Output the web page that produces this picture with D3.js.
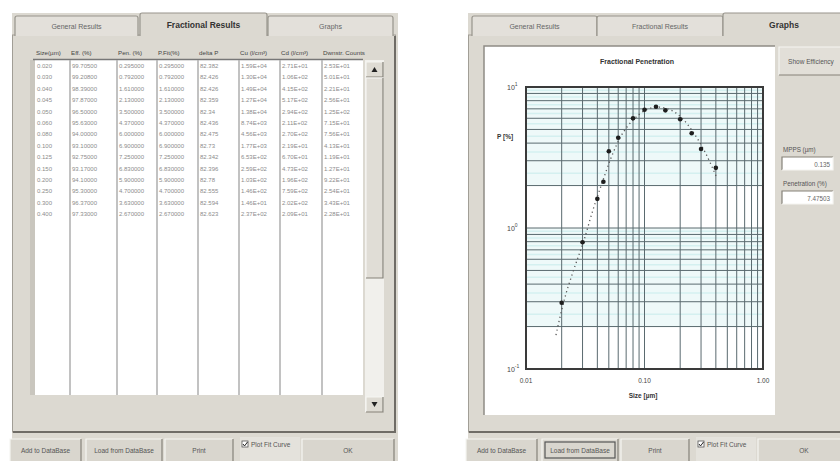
<!DOCTYPE html>
<html>
<head>
<meta charset="utf-8">
<script src="https://cdn.jsdelivr.net/npm/d3@7"></script>
<style>
  body { margin: 0; background: #fff; }
  svg text { font-family: "Liberation Sans", Arial, sans-serif; }
</style>
</head>
<body>
<svg id="chart" width="840" height="461"></svg>
<script>

  // data
  let sizes = [0.020, 0.030, 0.040, 0.045, 0.050, 0.060, 0.080, 0.100, 0.125, 0.150, 0.200, 0.250, 0.300, 0.400];
  let penetration = [0.295, 0.792, 1.61, 2.13, 3.50, 4.37, 6.00, 6.90, 7.25, 6.83, 5.90, 4.70, 3.63, 2.67];

  // fit curve, sampled off the dotted line
  let fitSize = [0.0179, 0.0210, 0.0249, 0.0309, 0.0367, 0.0430, 0.0521, 0.0634, 0.080, 0.103, 0.127, 0.158, 0.203, 0.257, 0.324, 0.409];
  let fitPen = [0.174, 0.308, 0.487, 0.822, 1.34, 1.99, 3.13, 4.49, 5.83, 6.87, 7.21, 6.98, 6.13, 4.80, 3.46, 2.26];

  let deltaP = ["82.382", "82.426", "82.426", "82.359", "82.34", "82.436", "82.475", "82.73", "82.342", "82.396", "82.78", "82.555", "82.594", "82.623"];
  let cUp = ["1.59E+04", "1.30E+04", "1.49E+04", "1.27E+04", "1.38E+04", "8.74E+03", "4.56E+03", "1.77E+03", "6.53E+02", "2.59E+02", "1.03E+02", "1.46E+02", "1.46E+01", "2.37E+02"];
  let cDown = ["2.71E+01", "1.06E+02", "4.15E+02", "5.17E+02", "2.94E+02", "2.11E+02", "2.70E+02", "2.19E+01", "6.70E+01", "4.73E+02", "1.96E+02", "7.59E+02", "2.02E+02", "2.09E+01"];
  let counts = ["2.53E+01", "5.01E+01", "2.21E+01", "2.56E+01", "1.25E+02", "7.15E+01", "7.56E+01", "4.13E+01", "1.19E+01", "1.27E+01", "9.22E+01", "2.54E+01", "3.43E+01", "2.28E+01"];

  let tabNames = ["General Results", "Fractional Results", "Graphs"];
  let columnNames = ["Size(\u00b5m)", "Eff. (%)", "Pen. (%)", "P.Fit(%)", "delta P", "Cu (l/cm\u00b3)", "Cd (l/cm\u00b3)", "Dwnstr. Counts"];
  let buttonNames = ["Add to DataBase", "Load from DataBase", "Print", "Plot Fit Curve", "OK"];
  let xTickLabels = ["0.01", "0.10", "1.00"];
  let yTickExp = ["1", "0", "-1"];
  let mpps = "0.135";
  let maxPen = "7.47503";

  // colours
  let panel = "#dcd9d1";
  let darkEdge = "#858279";
  let textGrey = "#8c8c8c";

  let svg = d3.select("#chart");

  let bevel = function(parent, x, y, w, h, fill, sunken) {
    parent.append("rect")
          .attr("x", x).attr("y", y)
          .attr("width", w).attr("height", h)
          .attr("fill", fill);
    parent.append("path")
          .attr("d", "M" + x + "," + (y + h) + " V" + y + " H" + (x + w))
          .attr("fill", "none")
          .attr("stroke", sunken ? darkEdge : "#f6f5f2")
          .attr("stroke-width", 1.2);
    parent.append("path")
          .attr("d", "M" + (x + w) + "," + y + " V" + (y + h) + " H" + x)
          .attr("fill", "none")
          .attr("stroke", sunken ? "#f6f5f2" : darkEdge)
          .attr("stroke-width", 1.2);
  }

  let createWindow = function(x0, width, tabs, active, focusIndex) {
    let g = svg.append("g");

    g.append("rect")
     .attr("x", x0).attr("y", 13)
     .attr("width", width).attr("height", 448)
     .attr("fill", panel);

    // tab panel
    g.append("rect")
     .attr("x", x0 + 0.5).attr("y", 35)
     .attr("width", width - 3).attr("height", 397)
     .attr("fill", panel)
     .attr("stroke", "#a19e96")
     .attr("stroke-width", 1);
    g.append("path")
     .attr("d", "M" + (x0 + 1) + ",432 H" + (x0 + width - 3) + " V36")
     .attr("fill", "none")
     .attr("stroke", "#6f6c66")
     .attr("stroke-width", 2);

    tabs.forEach(function(t, i) {
      let isActive = i == active;
      let y = isActive ? 13 : 16;
      g.append("path")
       .attr("d", "M" + t[0] + ",36 V" + (y + 2) + " Q" + t[0] + "," + y + " " + (t[0] + 2) + "," + y +
                  " H" + (t[1] - 2) + " Q" + t[1] + "," + y + " " + t[1] + "," + (y + 2) + " V36")
       .attr("fill", isActive ? panel : "#e3e0da")
       .attr("stroke", "#97948c")
       .attr("stroke-width", 1.2);
      if (isActive) {
        g.append("rect")
         .attr("x", t[0] + 1).attr("y", 34)
         .attr("width", t[1] - t[0] - 2).attr("height", 3)
         .attr("fill", panel);
      }
      g.append("text")
       .attr("x", (t[0] + t[1]) / 2)
       .attr("y", isActive ? 28 : 29)
       .attr("text-anchor", "middle")
       .attr("font-size", isActive ? 8.5 : 7)
       .attr("font-weight", isActive ? "bold" : "normal")
       .attr("fill", isActive ? "#333" : "#666")
       .text(tabNames[i]);
    });

    // bottom buttons
    let bx = [[x0 - 2, 71], [x0 + 74, 76], [x0 + 153, 68], [x0 + 228, 60], [x0 + 290, 92]];
    buttonNames.forEach(function(name, i) {
      let b = bx[i];
      if (i == 3) {
        g.append("rect")
         .attr("x", b[0]).attr("y", 437)
         .attr("width", b[1]).attr("height", 24)
         .attr("fill", "#e4e2dc");
        g.append("rect")
         .attr("x", b[0] + 2).attr("y", 441)
         .attr("width", 6).attr("height", 6)
         .attr("fill", "#fff")
         .attr("stroke", "#555")
         .attr("stroke-width", 0.8);
        g.append("path")
         .attr("d", "M" + (b[0] + 3) + ",444 l1.5,2 l3,-4")
         .attr("fill", "none")
         .attr("stroke", "#222")
         .attr("stroke-width", 1);
        g.append("text")
         .attr("x", b[0] + 11).attr("y", 447)
         .attr("font-size", 6.5)
         .attr("fill", "#555")
         .text(name);
        return;
      }
      bevel(g, b[0], 439, b[1], 24, "#d9d6ce", false);
      if (i == focusIndex) {
        g.append("rect")
         .attr("x", b[0] + 3).attr("y", 442)
         .attr("width", b[1] - 6).attr("height", 16)
         .attr("fill", "none")
         .attr("stroke", "#555")
         .attr("stroke-width", 1.2);
      }
      g.append("text")
       .attr("x", b[0] + b[1] / 2).attr("y", 453)
       .attr("text-anchor", "middle")
       .attr("font-size", 6.5)
       .attr("fill", "#555")
       .text(name);
    });

    return g;
  }

  // ---------- left window: table ----------
  let left = createWindow(12, 386,
    [[15, 138], [140, 267], [268, 393]], 1, -1);

  let colX = [35, 70, 117, 157, 198, 239, 280, 322, 363];

  left.append("rect")
      .attr("x", 30).attr("y", 60)
      .attr("width", 5).attr("height", 335)
      .attr("fill", "#c9c6be");

  left.append("rect")
      .attr("x", colX[0]).attr("y", 60)
      .attr("width", colX[8] - colX[0]).attr("height", 335)
      .attr("fill", "#fff");

  left.append("line")
      .attr("x1", 33).attr("x2", 363)
      .attr("y1", 59.5).attr("y2", 59.5)
      .attr("stroke", "#777")
      .attr("stroke-width", 1.5);

  left.selectAll(".col-line")
      .data(colX.slice(1, 8))
      .enter()
      .append("line")
      .attr("class", "col-line")
      .attr("x1", function(d) { return d; })
      .attr("x2", function(d) { return d; })
      .attr("y1", 60)
      .attr("y2", 395)
      .attr("stroke", "#b3b3b3")
      .attr("stroke-width", 1.6);

  left.selectAll(".col-head")
      .data(columnNames)
      .enter()
      .append("text")
      .attr("class", "col-head")
      .attr("x", function(d, i) { return colX[i] + 1; })
      .attr("y", 55)
      .attr("font-size", 6.2)
      .attr("fill", "#444")
      .text(function(d) { return d; });

  let rowText = sizes.map(function(s, i) {
    return [
      s.toFixed(3),
      (100 - penetration[i]).toFixed(5),
      penetration[i].toFixed(6),
      penetration[i].toFixed(6),
      deltaP[i],
      cUp[i],
      cDown[i],
      counts[i]
    ];
  });

  let rows = left.selectAll(".row")
                 .data(rowText)
                 .enter()
                 .append("g")
                 .attr("class", "row")
                 .attr("transform", function(d, i) {
                   return "translate(0," + (68 + i * 11.4) + ")";
                 });

  rows.selectAll("text")
      .data(function(d) { return d; })
      .enter()
      .append("text")
      .attr("x", function(d, i) { return colX[i] + 2; })
      .attr("y", 0)
      .attr("font-size", 6)
      .attr("fill", textGrey)
      .text(function(d) { return d; });

  // scroll bar
  left.append("rect")
      .attr("x", 365).attr("y", 60)
      .attr("width", 19).attr("height", 352)
      .attr("fill", "#f1f0ec");
  bevel(left, 366, 62, 17, 15, "#dedbd3", false);
  bevel(left, 366, 78, 17, 200, "#e0ddd6", false);
  bevel(left, 366, 397, 17, 15, "#dedbd3", false);
  left.append("path")
      .attr("d", "M371.5,72 L374.5,67 L377.5,72 Z")
      .attr("fill", "#222");
  left.append("path")
      .attr("d", "M371.5,402 L374.5,407 L377.5,402 Z")
      .attr("fill", "#222");

  // ---------- right window: graph ----------
  let right = createWindow(468, 378,
    [[472, 597], [597, 723], [723, 845]], 2, 1);

  right.append("rect")
       .attr("x", 484).attr("y", 46)
       .attr("width", 291).attr("height", 369)
       .attr("fill", "#fff");
  right.append("path")
       .attr("d", "M484,415 V46 H775")
       .attr("fill", "none")
       .attr("stroke", "#8f8c85")
       .attr("stroke-width", 1.5);

  bevel(right, 779, 47, 64, 28, "#e2dfd8", false);
  right.append("text")
       .attr("x", 811).attr("y", 64)
       .attr("text-anchor", "middle")
       .attr("font-size", 6.5)
       .attr("fill", "#555")
       .text("Show Efficiency");

  right.append("text")
       .attr("x", 783).attr("y", 152)
       .attr("font-size", 6.3)
       .attr("fill", "#555")
       .text("MPPS (\u00b5m)");
  bevel(right, 782, 157, 51, 13, "#fff", true);
  right.append("text")
       .attr("x", 830).attr("y", 167)
       .attr("text-anchor", "end")
       .attr("font-size", 6.3)
       .attr("fill", "#666")
       .text(mpps);

  right.append("text")
       .attr("x", 783).attr("y", 186)
       .attr("font-size", 6.3)
       .attr("fill", "#555")
       .text("Penetration (%)");
  bevel(right, 782, 191, 51, 13, "#fff", true);
  right.append("text")
       .attr("x", 830).attr("y", 201)
       .attr("text-anchor", "end")
       .attr("font-size", 6.3)
       .attr("fill", "#666")
       .text(maxPen);

  let x = d3.scaleLog().domain([0.01, 1]).range([526, 763]);
  let y = d3.scaleLog().domain([0.1, 10]).range([369, 87]);

  let plot = right.append("g").attr("class", "plot");

  // light cyan bands from 2 to 10 in each decade
  [0.1, 1].forEach(function(dec) {
    plot.append("rect")
        .attr("x", x(0.01)).attr("y", y(dec * 10))
        .attr("width", x(1) - x(0.01))
        .attr("height", y(dec * 2) - y(dec * 10))
        .attr("fill", "#eef9f9");
  });

  let yTicks = y.ticks();
  let yMid = [];
  for (let i = 0; i < yTicks.length - 1; i++) {
    if (yTicks[i + 1] / yTicks[i] < 1.9) {
      yMid.push(Math.sqrt(yTicks[i] * yTicks[i + 1]));
    }
  }

  plot.selectAll(".y-soft")
      .data(yMid)
      .enter()
      .append("line")
      .attr("class", "y-soft")
      .attr("x1", x(0.01)).attr("x2", x(1))
      .attr("y1", function(d) { return y(d); })
      .attr("y2", function(d) { return y(d); })
      .attr("stroke", "#d4f0f0")
      .attr("stroke-width", 1.5);

  plot.selectAll(".x-grid")
      .data(x.ticks())
      .enter()
      .append("line")
      .attr("class", "x-grid")
      .attr("x1", function(d) { return x(d); })
      .attr("x2", function(d) { return x(d); })
      .attr("y1", y(10)).attr("y2", y(0.1))
      .attr("stroke", "#5a6a6f")
      .attr("stroke-width", 1);

  plot.selectAll(".y-grid")
      .data(yTicks)
      .enter()
      .append("line")
      .attr("class", "y-grid")
      .attr("x1", x(0.01)).attr("x2", x(1))
      .attr("y1", function(d) { return y(d); })
      .attr("y2", function(d) { return y(d); })
      .attr("stroke", "#5a6a6f")
      .attr("stroke-width", 1);

  plot.append("rect")
      .attr("x", x(0.01)).attr("y", y(10))
      .attr("width", x(1) - x(0.01))
      .attr("height", y(0.1) - y(10))
      .attr("fill", "none")
      .attr("stroke", "#3a3a3a")
      .attr("stroke-width", 2);

  // fit curve
  let fitLine = d3.line()
                  .x(function(d) { return x(d[0]); })
                  .y(function(d) { return y(d[1]); })
                  .curve(d3.curveMonotoneX);

  plot.append("path")
      .attr("d", fitLine(fitSize.map(function(s, i) { return [s, fitPen[i]]; })))
      .attr("fill", "none")
      .attr("stroke", "#555")
      .attr("stroke-width", 1.3)
      .attr("stroke-dasharray", "1.2,3.2");

  plot.selectAll(".pt")
      .data(sizes)
      .enter()
      .append("circle")
      .attr("class", "pt")
      .attr("cx", function(d) { return x(d); })
      .attr("cy", function(d, i) { return y(penetration[i]); })
      .attr("r", 2.3)
      .attr("fill", "#1e1e1e");

  // axis labels
  let yDecades = [10, 1, 0.1];
  yDecades.forEach(function(v, i) {
    let t = plot.append("text")
                .attr("x", 507)
                .attr("y", y(v) + 3)
                .attr("font-size", 7)
                .attr("fill", "#444");
    t.append("tspan").text("10");
    t.append("tspan")
     .attr("dy", -4)
     .attr("font-size", 5)
     .text(yTickExp[i]);
  });

  [0.01, 0.1, 1].forEach(function(v, i) {
    plot.append("text")
        .attr("x", x(v))
        .attr("y", 383)
        .attr("text-anchor", "middle")
        .attr("font-size", 6.5)
        .attr("fill", "#444")
        .text(xTickLabels[i]);
  });

  plot.append("text")
      .attr("x", 637).attr("y", 64)
      .attr("text-anchor", "middle")
      .attr("font-size", 7)
      .attr("font-weight", "bold")
      .attr("fill", "#333")
      .text("Fractional Penetration");

  plot.append("text")
      .attr("x", 497).attr("y", 139)
      .attr("font-size", 6.5)
      .attr("font-weight", "bold")
      .attr("fill", "#333")
      .text("P [%]");

  plot.append("text")
      .attr("x", 643).attr("y", 398)
      .attr("text-anchor", "middle")
      .attr("font-size", 6.5)
      .attr("font-weight", "bold")
      .attr("fill", "#333")
      .text("Size [\u00b5m]");

</script>
</body>
</html>
